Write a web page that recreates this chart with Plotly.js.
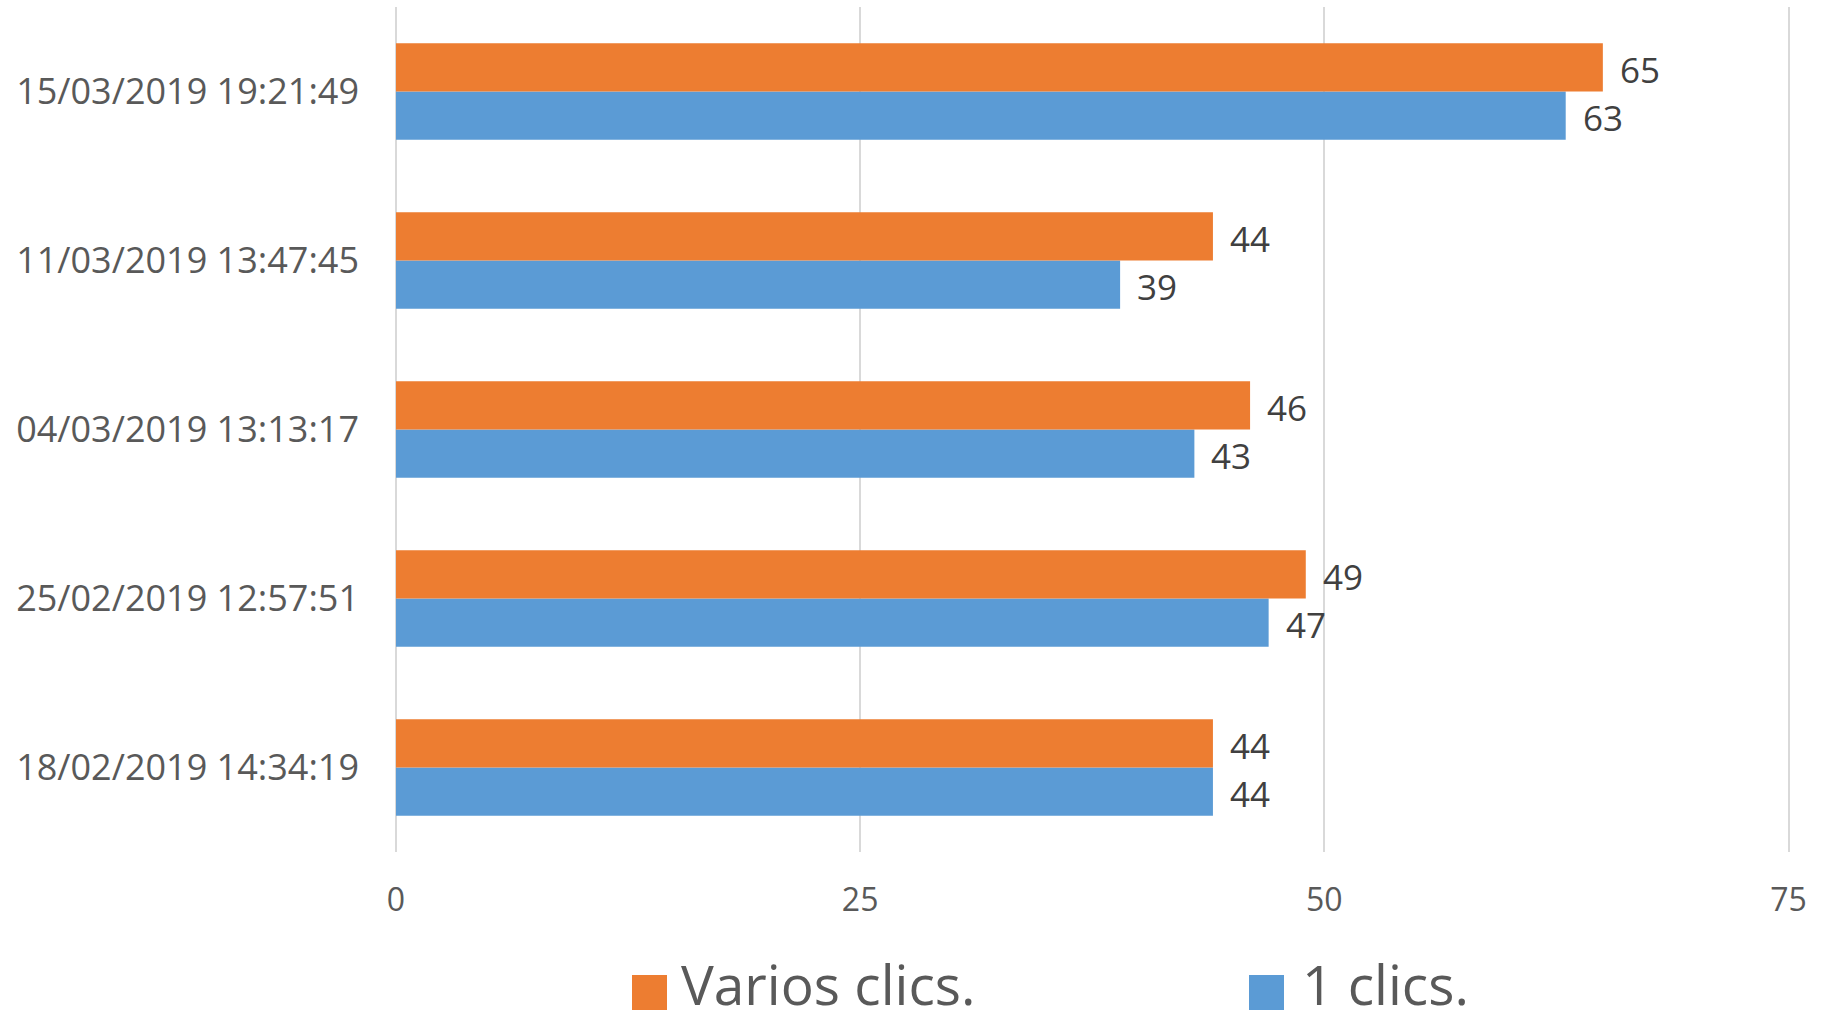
<!DOCTYPE html>
<html>
<head>
<meta charset="utf-8">
<script src="https://cdn.plot.ly/plotly-3.0.1.min.js"></script>
<style>html,body{margin:0;padding:0;background:#fff;}#chart{width:1825px;height:1021px;}</style>
</head>
<body>
<div id="chart"></div>
<script>
// Categories from bottom to top
const categories = ['18/02/2019 14:34:19', '25/02/2019 12:57:51', '04/03/2019 13:13:17', '11/03/2019 13:47:45', '15/03/2019 19:21:49'];
const seriesNames = ['Varios clics.', '1 clics.'];
const variosClics = [44, 49, 46, 44, 65];
const unClic = [44, 47, 43, 39, 63];
const xTicks = [0, 25, 50, 75];

const ORANGE = '#ED7D31';
const BLUE = '#5B9BD5';
const FONT = 'Open Sans, Noto Sans, sans-serif';

const traces = [
  {type: 'bar', orientation: 'h', name: seriesNames[1], y: categories, x: unClic,
   marker: {color: BLUE}, hoverinfo: 'x+y'},
  {type: 'bar', orientation: 'h', name: seriesNames[0], y: categories, x: variosClics,
   marker: {color: ORANGE}, hoverinfo: 'x+y'}
];

// plot area in pixels
const L = 396, R = 1790, T = 7, B = 852;
const px2x = p => (p - L) / (R - L);
const px2y = p => (B - p) / (B - T);

const annotations = [];
categories.forEach((c, i) => {
  annotations.push({x: variosClics[i], y: c, xref: 'x', yref: 'y', text: String(variosClics[i]),
    showarrow: false, xanchor: 'left', yanchor: 'middle', xshift: 15, yshift: 22,
    font: {family: FONT, size: 35, color: '#404040'}});
  annotations.push({x: unClic[i], y: c, xref: 'x', yref: 'y', text: String(unClic[i]),
    showarrow: false, xanchor: 'left', yanchor: 'middle', xshift: 15, yshift: -26,
    font: {family: FONT, size: 35, color: '#404040'}});
});

// Legend (manual, large swatches)
const legendItems = [
  {name: seriesNames[0], color: ORANGE, sx0: 632, textX: 680},
  {name: seriesNames[1], color: BLUE, sx0: 1249, textX: 1301}
];
const shapes = [];
legendItems.forEach(it => {
  shapes.push({type: 'rect', xref: 'paper', yref: 'paper',
    x0: px2x(it.sx0), x1: px2x(it.sx0 + 35), y0: px2y(1010), y1: px2y(975),
    fillcolor: it.color, line: {width: 0}});
  annotations.push({xref: 'paper', yref: 'paper', x: px2x(it.textX), y: px2y(983),
    xanchor: 'left', yanchor: 'middle', showarrow: false, text: it.name, borderpad: 0,
    font: {family: FONT, size: 55, color: '#595959'}});
});

const layout = {
  width: 1825, height: 1021,
  margin: {l: L, r: 1825 - R, t: T, b: 1021 - B, pad: 0},
  paper_bgcolor: '#ffffff', plot_bgcolor: '#ffffff',
  barmode: 'group', bargap: 0.428, bargroupgap: 0,
  showlegend: false,
  xaxis: {range: [0, 75.08], tickvals: xTicks, ticktext: xTicks.map(String),
    showgrid: true, gridcolor: '#d9d9d9', gridwidth: 2,
    zeroline: true, zerolinecolor: '#d9d9d9', zerolinewidth: 2,
    showline: false, ticks: '', ticklabelstandoff: 26,
    tickfont: {family: FONT, size: 32, color: '#595959'}, fixedrange: true},
  yaxis: {type: 'category', categoryorder: 'array', categoryarray: categories,
    showgrid: false, zeroline: false, showline: false, ticks: '', ticklabelstandoff: 36,
    tickfont: {family: FONT, size: 36, color: '#595959'}, fixedrange: true},
  annotations: annotations,
  shapes: shapes
};

Plotly.newPlot('chart', traces, layout, {displayModeBar: false, staticPlot: true});
</script>
</body>
</html>
